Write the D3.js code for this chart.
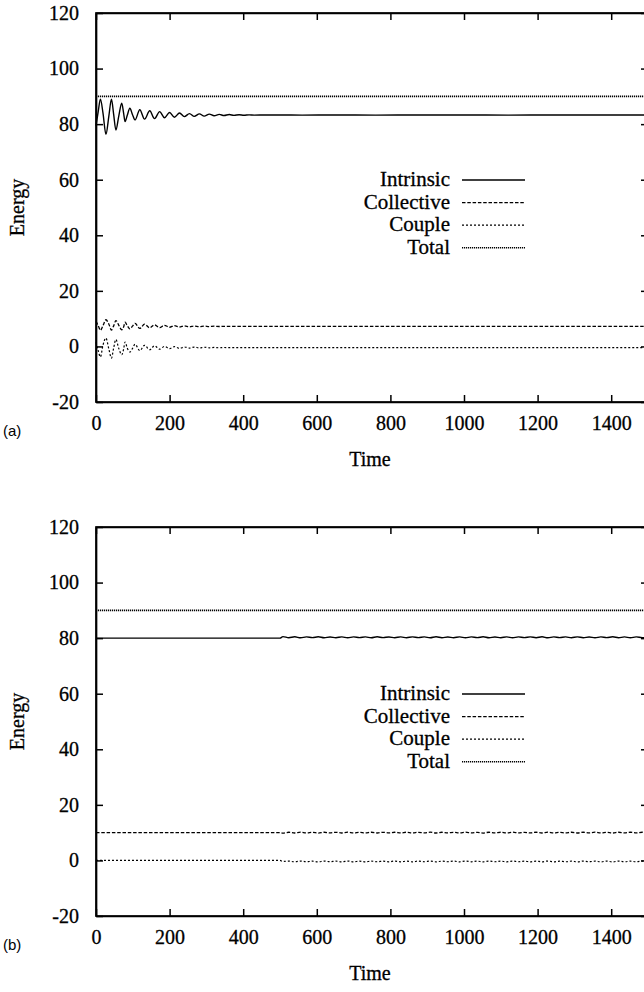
<!DOCTYPE html>
<html>
<head>
<meta charset="utf-8">
<script src="https://cdn.jsdelivr.net/npm/d3@7"></script>
<style>
  body { margin: 0; background: #fff; }
  svg { display: block; }
  .serif { font-family: "Liberation Serif", "Times New Roman", serif; fill: #000; stroke: #000; stroke-width: 0.3px; }
  .tag { font-family: "Liberation Sans", Arial, sans-serif; fill: #000; }
</style>
</head>
<body>
<svg id="chart" width="644" height="992"></svg>
<script>
// Axis ticks
const xTicks = [0, 200, 400, 600, 800, 1000, 1200, 1400];
const yTicks = [-20, 0, 20, 40, 60, 80, 100, 120];
const seriesNames = ["Intrinsic", "Collective", "Couple", "Total"];

// Panel (a): energies vs time
const timeA = [0, 6, 12, 19, 27, 35, 42, 48, 54, 62,
  70, 75, 79, 85, 92, 99, 106, 119, 132, 146,
  159, 173, 186, 200, 213, 227, 240, 254, 267, 281,
  294, 308, 321, 335, 348, 362, 375, 389, 402, 416,
  430, 460, 500, 560, 650, 760, 880, 1000, 1120, 1240,
  1360, 1500];
const intrinsicA = [79.5, 84.5, 89.0, 84.0, 76.3, 83.0, 89.0, 83.5, 77.9, 83.0,
  87.5, 84.0, 80.9, 83.2, 85.7, 83.5, 81.5, 85.2, 81.8, 84.8,
  82.0, 84.5, 82.3, 84.2, 82.5, 84.0, 82.7, 83.8, 82.8, 83.7,
  82.9, 83.6, 83.0, 83.5, 83.1, 83.45, 83.15, 83.4, 83.2, 83.35,
  83.25, 83.3, 83.3, 83.25, 83.3, 83.25, 83.3, 83.3, 83.25, 83.3,
  83.3, 83.3];
const collectiveA = [9.0, 7.5, 5.8, 7.5, 9.6, 8.0, 5.9, 7.4, 9.3, 7.6,
  6.0, 7.0, 8.7, 7.5, 6.3, 7.3, 8.3, 6.5, 8.0, 6.7,
  7.8, 6.8, 7.6, 6.9, 7.5, 7.0, 7.4, 7.05, 7.35, 7.1,
  7.3, 7.15, 7.28, 7.17, 7.25, 7.2, 7.23, 7.2, 7.22, 7.2,
  7.2, 7.22, 7.2, 7.21, 7.2, 7.22, 7.2, 7.21, 7.2, 7.22,
  7.2, 7.2];
const coupleA = [1.5, -1.5, -3.8, 0.5, 3.0, -1.0, -4.2, -0.5, 2.5, -0.8,
  -3.0, -1.0, 1.6, -0.6, -2.0, -0.8, 0.8, -1.5, 0.4, -1.2,
  0.2, -1.0, 0.0, -0.8, -0.1, -0.7, -0.2, -0.6, -0.25, -0.55,
  -0.3, -0.5, -0.35, -0.48, -0.38, -0.45, -0.4, -0.44, -0.4, -0.42,
  -0.4, -0.42, -0.4, -0.41, -0.4, -0.42, -0.4, -0.41, -0.4, -0.42,
  -0.4, -0.4];
const totalTime = [0, 1500];
const totalA = [90, 90];

// Panel (b): energies vs time
const timeB = [0, 500, 508,
  524, 540, 556, 572, 588, 604, 620, 636, 652, 668,
  684, 700, 716, 732, 748, 764, 780, 796, 812, 828,
  844, 860, 876, 892, 908, 924, 940, 956, 972, 988,
  1004, 1020, 1036, 1052, 1068, 1084, 1100, 1116, 1132, 1148,
  1164, 1180, 1196, 1212, 1228, 1244, 1260, 1276, 1292, 1308,
  1324, 1340, 1356, 1372, 1388, 1404, 1420, 1436, 1452, 1468,
  1484, 1500];
const intrinsicB = [80.0, 80.0, 80.55,
  80.15, 80.48, 80.12, 80.45, 80.18, 80.50, 80.14, 80.42, 80.16, 80.47,
  80.13, 80.44, 80.19, 80.46, 80.12, 80.49, 80.17, 80.43, 80.15, 80.45,
  80.14, 80.47, 80.18, 80.44, 80.13, 80.48, 80.16, 80.42, 80.15, 80.46,
  80.12, 80.45, 80.17, 80.49, 80.14, 80.43, 80.16, 80.47, 80.13, 80.44,
  80.18, 80.46, 80.15, 80.48, 80.12, 80.44, 80.17, 80.45, 80.14, 80.47,
  80.16, 80.43, 80.13, 80.46, 80.18, 80.48, 80.15, 80.44, 80.14, 80.46,
  80.15, 80.3];
const collectiveB = [10.0, 10.0, 9.8,
  10.14, 9.88, 10.16, 9.90, 10.12, 9.86, 10.15, 9.91, 10.13, 9.88,
  10.16, 9.90, 10.12, 9.89, 10.15, 9.87, 10.13, 9.91, 10.14, 9.89,
  10.15, 9.88, 10.12, 9.90, 10.16, 9.87, 10.14, 9.91, 10.13, 9.89,
  10.16, 9.89, 10.13, 9.86, 10.15, 9.90, 10.14, 9.88, 10.16, 9.90,
  10.12, 9.89, 10.15, 9.87, 10.16, 9.90, 10.13, 9.89, 10.15, 9.88,
  10.14, 9.91, 10.16, 9.89, 10.12, 9.87, 10.14, 9.90, 10.15, 9.89,
  10.14, 10.02];
const coupleB = [0.0, 0.0, -0.35,
  -0.25, -0.50, -0.22, -0.48, -0.27, -0.52, -0.24, -0.47, -0.26, -0.50,
  -0.23, -0.49, -0.27, -0.51, -0.24, -0.48, -0.26, -0.50, -0.22, -0.49,
  -0.26, -0.52, -0.23, -0.48, -0.25, -0.50, -0.27, -0.47, -0.24, -0.51,
  -0.22, -0.49, -0.26, -0.52, -0.24, -0.48, -0.25, -0.50, -0.23, -0.47,
  -0.27, -0.51, -0.24, -0.49, -0.22, -0.50, -0.26, -0.48, -0.25, -0.52,
  -0.23, -0.47, -0.26, -0.50, -0.24, -0.51, -0.25, -0.49, -0.27, -0.48,
  -0.24, -0.35];
const totalB = [90, 90];

// Line styles per series
const styles = {
  Intrinsic:  { dash: null,  width: 1.4 },
  Collective: { dash: "3.5,1.8", width: 1.3 },
  Couple:     { dash: "2,2", width: 1.2 },
  Total:      { dash: "1.2,0.8", width: 1.6 }
};

const svg = d3.select("#chart");
svg.append("rect").attr("width", 644).attr("height", 992).attr("fill", "#fff");

const left = 96, right = 648, panelH = 389;
const x = d3.scaleLinear().domain([0, 1500]).range([left, right]);

function drawPanel(top, tag, data) {
  const bottom = top + panelH;
  const y = d3.scaleLinear().domain([-20, 120]).range([bottom, top]);
  const g = svg.append("g");

  // series lines
  const line = d3.line().x(d => x(d[0])).y(d => y(d[1])).curve(d3.curveMonotoneX);
  data.forEach(s => {
    const pts = s.t.map((t, i) => [t, s.v[i]]);
    const st = styles[s.name];
    g.append("path").datum(pts)
      .attr("d", line)
      .attr("fill", "none")
      .attr("stroke", "#000")
      .attr("stroke-width", st.width)
      .attr("stroke-dasharray", st.dash);
  });

  // axes with inward ticks on all four sides
  const fmt = d => String(d);
  g.append("g").attr("transform", `translate(0,${bottom})`)
    .call(d3.axisBottom(x).tickValues(xTicks).tickSizeInner(-7).tickSizeOuter(0).tickPadding(14).tickFormat(fmt));
  g.append("g").attr("transform", `translate(0,${top})`)
    .call(d3.axisTop(x).tickValues(xTicks).tickSizeInner(-7).tickSizeOuter(0).tickFormat(""));
  g.append("g").attr("transform", `translate(${left},0)`)
    .call(d3.axisLeft(y).tickValues(yTicks).tickSizeInner(-7).tickSizeOuter(0).tickPadding(17).tickFormat(fmt));
  g.append("g").attr("transform", `translate(${right},0)`)
    .call(d3.axisRight(y).tickValues(yTicks).tickSizeInner(-7).tickSizeOuter(0).tickFormat(""));
  g.selectAll(".domain").attr("stroke", "#000").attr("stroke-width", 1.7);
  g.selectAll(".tick line").attr("stroke", "#000").attr("stroke-width", 1.5);
  g.selectAll(".tick text").attr("class", "serif").style("font-size", "20px")
    .attr("font-family", null).attr("fill", "#000");

  // frame
  g.append("rect").attr("x", left).attr("y", top).attr("width", right - left).attr("height", panelH)
    .attr("fill", "none").attr("stroke", "#000").attr("stroke-width", 1.7);

  // axis titles
  g.append("text").attr("class", "serif").style("font-size", "20px")
    .attr("text-anchor", "middle")
    .attr("transform", `translate(24,${(top + bottom) / 2}) rotate(-90)`)
    .text("Energy");
  g.append("text").attr("class", "serif").style("font-size", "20px")
    .attr("text-anchor", "middle").attr("x", 370).attr("y", bottom + 64)
    .text("Time");
  g.append("text").attr("class", "tag").style("font-size", "15px")
    .attr("x", 3).attr("y", bottom + 34).text(tag);

  // legend
  seriesNames.forEach((name, i) => {
    const ly = top + 167 + i * 22.6;
    g.append("text").attr("class", "serif").style("font-size", "21px")
      .attr("text-anchor", "end").attr("x", 450).attr("y", ly + 6).text(name);
    const st = styles[name];
    g.append("line").attr("x1", 462).attr("x2", 525).attr("y1", ly).attr("y2", ly)
      .attr("stroke", "#000").attr("stroke-width", st.width).attr("stroke-dasharray", st.dash);
  });
}

drawPanel(13, "(a)", [
  { name: "Intrinsic", t: timeA, v: intrinsicA },
  { name: "Collective", t: timeA, v: collectiveA },
  { name: "Couple", t: timeA, v: coupleA },
  { name: "Total", t: totalTime, v: totalA }
]);
drawPanel(527, "(b)", [
  { name: "Intrinsic", t: timeB, v: intrinsicB },
  { name: "Collective", t: timeB, v: collectiveB },
  { name: "Couple", t: timeB, v: coupleB },
  { name: "Total", t: totalTime, v: totalB }
]);
</script>
</body>
</html>
